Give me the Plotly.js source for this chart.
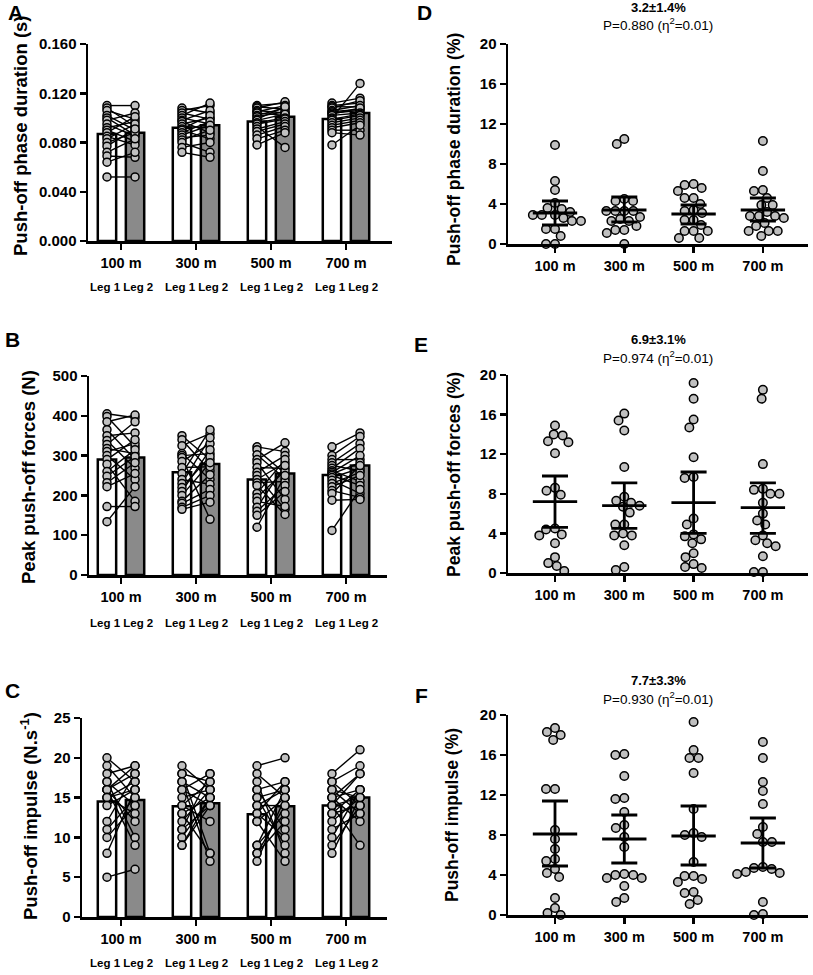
<!DOCTYPE html>
<html>
<head>
<meta charset="utf-8">
<script src="https://cdn.plot.ly/plotly-3.0.1.min.js"></script>
<style>body{margin:0;background:#fff}</style>
</head>
<body>
<div id="chart" style="width:813px;height:975px"></div>
<script>
var distances = ['100 m', '300 m', '500 m', '700 m'];

// A - push-off phase duration (s), one row per distance, subjects paired by index
var durationLeg1 = [
  [0.110, 0.108, 0.106, 0.102, 0.100, 0.098, 0.095, 0.092, 0.090, 0.088, 0.085, 0.083, 0.080, 0.077, 0.072, 0.069, 0.064, 0.052],
  [0.108, 0.106, 0.104, 0.102, 0.100, 0.098, 0.097, 0.095, 0.093, 0.091, 0.090, 0.088, 0.086, 0.084, 0.082, 0.080, 0.076, 0.072],
  [0.110, 0.109, 0.108, 0.106, 0.105, 0.104, 0.102, 0.101, 0.099, 0.098, 0.096, 0.095, 0.093, 0.091, 0.089, 0.086, 0.083, 0.078],
  [0.112, 0.110, 0.109, 0.108, 0.106, 0.105, 0.104, 0.103, 0.102, 0.100, 0.099, 0.098, 0.096, 0.094, 0.092, 0.090, 0.088, 0.078]
];
var durationLeg2 = [
  [0.110, 0.093, 0.099, 0.090, 0.086, 0.104, 0.085, 0.097, 0.081, 0.101, 0.078, 0.095, 0.088, 0.091, 0.083, 0.068, 0.072, 0.052],
  [0.104, 0.110, 0.099, 0.112, 0.095, 0.106, 0.088, 0.100, 0.092, 0.102, 0.083, 0.097, 0.094, 0.086, 0.090, 0.072, 0.080, 0.068],
  [0.112, 0.107, 0.113, 0.104, 0.110, 0.102, 0.108, 0.105, 0.109, 0.103, 0.100, 0.099, 0.076, 0.097, 0.095, 0.093, 0.090, 0.088],
  [0.116, 0.112, 0.109, 0.114, 0.110, 0.107, 0.106, 0.108, 0.104, 0.128, 0.103, 0.102, 0.100, 0.098, 0.096, 0.090, 0.086, 0.094]
];
var durationMean1 = [0.087, 0.092, 0.097, 0.099];
var durationMean2 = [0.088, 0.094, 0.101, 0.104];

// B - peak push-off forces (N)
var forceLeg1 = [
  [405, 398, 385, 365, 350, 338, 328, 318, 310, 300, 290, 278, 260, 248, 232, 222, 172, 134],
  [350, 340, 325, 305, 300, 295, 285, 270, 255, 240, 230, 220, 210, 200, 185, 180, 170, 165],
  [322, 315, 302, 290, 282, 270, 258, 250, 240, 232, 225, 205, 195, 185, 170, 160, 150, 120],
  [322, 300, 290, 282, 275, 268, 262, 258, 254, 250, 245, 238, 230, 222, 212, 205, 188, 112]
];
var forceLeg2 = [
  [395, 322, 402, 290, 357, 268, 385, 305, 330, 240, 340, 185, 315, 298, 282, 255, 172, 222],
  [290, 262, 355, 240, 305, 140, 330, 272, 365, 228, 345, 298, 315, 282, 252, 215, 200, 183],
  [310, 255, 242, 332, 190, 268, 300, 165, 282, 235, 152, 290, 262, 172, 275, 225, 210, 250],
  [357, 348, 290, 330, 262, 318, 235, 300, 282, 225, 268, 205, 258, 250, 195, 275, 190, 215]
];
var forceMean1 = [290, 258, 240, 251];
var forceMean2 = [295, 279, 255, 275];

// C - push-off impulse (N.s-1)
var impulseLeg1 = [
  [20, 19, 18, 17, 17, 16, 16, 16, 16, 15, 15, 15, 14, 12, 11, 10, 8, 5],
  [19, 18, 18, 17, 17, 16, 16, 15, 14, 14, 13, 13, 12, 11, 11, 10, 9, 9],
  [19, 18, 17, 16, 16, 15, 15, 14, 14, 13, 13, 12, 12, 9, 9, 8, 8, 7],
  [18, 17, 17, 16, 16, 15, 15, 15, 14, 14, 14, 13, 13, 12, 11, 10, 9, 8]
];
var impulseLeg2 = [
  [17, 15, 19, 14, 10, 18, 12, 19, 9, 16, 13, 17, 16, 18, 15, 14, 16, 6],
  [16, 8, 17, 15, 7, 18, 14, 16, 12, 17, 15, 8, 16, 14, 18, 15, 14, 15],
  [20, 15, 8, 17, 11, 16, 9, 14, 16, 10, 17, 7, 15, 13, 16, 14, 12, 15],
  [21, 14, 19, 13, 15, 18, 12, 16, 18, 15, 9, 16, 14, 15, 13, 16, 14, 15]
];
var impulseMean1 = [14.5, 13.9, 12.9, 14.0];
var impulseMean2 = [14.7, 14.3, 13.9, 15.0];

// D-F - between-leg differences (%), mean with 95% CI
var durationDiff = [
  [9.9, 6.3, 5.4, 4.1, 3.6, 3.5, 3.2, 2.9, 2.9, 2.9, 2.6, 2.3, 2.3, 1.5, 1.5, 0.8, 0.0, 0.0],
  [10.5, 10.0, 4.5, 4.3, 4.3, 3.3, 3.3, 3.3, 3.3, 2.7, 2.5, 2.3, 2.3, 1.8, 1.4, 1.4, 1.1, 0.0],
  [6.0, 5.9, 5.6, 5.3, 4.6, 4.6, 4.0, 3.4, 3.3, 3.1, 2.4, 2.4, 1.9, 1.3, 1.3, 1.3, 0.6, 0.6],
  [10.3, 7.3, 5.4, 5.3, 4.6, 3.9, 3.9, 3.2, 2.8, 2.8, 2.8, 2.6, 2.1, 1.8, 1.3, 1.3, 1.3, 0.8]
];
var durationDiffMean = [3.1, 3.4, 3.0, 3.4];
var durationDiffHigh = [4.3, 4.7, 3.9, 4.6];
var durationDiffLow = [1.9, 2.2, 2.0, 2.3];

var forceDiff = [
  [14.9, 14.0, 13.9, 13.3, 13.2, 12.1, 8.6, 8.3, 7.9, 4.5, 4.4, 3.9, 3.8, 3.0, 1.6, 1.0, 0.7, 0.2],
  [16.1, 15.4, 14.4, 10.7, 7.7, 7.3, 7.1, 6.8, 6.7, 6.1, 4.9, 4.9, 4.0, 3.8, 3.8, 2.8, 0.6, 0.3],
  [19.2, 17.6, 15.5, 14.7, 11.7, 9.7, 9.6, 5.5, 4.9, 3.9, 3.7, 3.4, 3.0, 2.0, 1.6, 0.9, 0.6, 0.5],
  [18.5, 17.6, 11.0, 8.5, 8.4, 8.0, 8.0, 7.1, 6.0, 5.3, 4.9, 3.8, 3.3, 3.0, 2.7, 1.7, 0.1, 0.1]
];
var forceDiffMean = [7.2, 6.8, 7.1, 6.6];
var forceDiffHigh = [9.8, 9.1, 10.2, 9.1];
var forceDiffLow = [4.6, 4.5, 4.0, 4.0];

var impulseDiff = [
  [18.7, 18.3, 18.0, 17.5, 12.6, 12.6, 8.5, 7.6, 6.6, 5.6, 5.4, 4.6, 4.2, 3.8, 1.7, 0.7, 0.2, 0.0],
  [16.1, 16.0, 13.9, 11.7, 11.6, 10.3, 9.0, 8.7, 7.8, 6.8, 4.1, 4.0, 4.0, 3.7, 3.7, 2.9, 1.7, 1.3],
  [19.3, 16.5, 15.7, 15.7, 14.2, 10.6, 8.2, 8.0, 7.8, 5.3, 3.9, 3.9, 3.6, 3.3, 2.3, 2.2, 1.5, 1.1],
  [17.3, 15.7, 13.3, 12.4, 11.1, 8.8, 8.1, 7.3, 7.3, 4.8, 4.7, 4.6, 4.3, 4.2, 4.1, 1.3, 0.1, 0.0]
];
var impulseDiffMean = [8.1, 7.6, 7.9, 7.2];
var impulseDiffHigh = [11.4, 10.0, 10.9, 9.7];
var impulseDiffLow = [4.9, 5.2, 5.0, 4.7];

var diffSummary = ['3.2±1.4%', '6.9±3.1%', '7.7±3.3%'];
var diffP = ['0.880', '0.974', '0.930'];
var diffEta = ['0.01', '0.01', '0.01'];

var FONT = 'Liberation Sans, Arial, Helvetica, sans-serif';
var W = 813, H = 975;
var LEG_OFF = 0.187;
var traces = [];
var annotations = [];
var layout = {
  width: W, height: H,
  margin: { l: 0, r: 0, t: 0, b: 0 },
  paper_bgcolor: '#fff', plot_bgcolor: '#fff',
  showlegend: false, barmode: 'overlay',
  font: { family: FONT, color: '#000' },
  annotations: annotations
};

// panel frame in page pixels: left, right, top, bottom, first category x, px per category
var frames = [
  [88, 392, 44, 241, 121, 75],
  [89, 387, 376, 575, 121, 75],
  [82, 387, 718, 917, 121, 75],
  [508, 808, 44, 244, 555, 69.3],
  [508, 808, 375, 573, 555, 69.3],
  [508, 808, 715, 915, 555, 69.3]
];

function note(text, px, py, size, bold, extra) {
  var a = {
    xref: 'paper', yref: 'paper', x: px / W, y: 1 - py / H,
    xanchor: 'center', yanchor: 'middle', showarrow: false, text: text,
    font: { family: FONT, size: size, color: '#000', weight: bold ? 'bold' : 'normal' }
  };
  for (var k in extra) a[k] = extra[k];
  annotations.push(a);
}

function makeAxes(n, yRange, dtick, fmt) {
  var f = frames[n - 1];
  var id = n === 1 ? '' : n;
  var common = {
    showline: true, linewidth: 2.5, linecolor: '#000',
    ticks: 'outside', ticklen: 6, tickwidth: 2.5, tickcolor: '#000',
    showgrid: false, zeroline: false, fixedrange: true
  };
  layout['xaxis' + id] = Object.assign({
    domain: [f[0] / W, f[1] / W],
    range: [(f[0] - f[4]) / f[5], (f[1] - f[4]) / f[5]],
    anchor: 'y' + id,
    tickvals: [0, 1, 2, 3], ticktext: distances,
    tickfont: { family: FONT, size: 14.5, color: '#000', weight: 'bold' },
    ticklabelstandoff: 1
  }, common);
  layout['yaxis' + id] = Object.assign({
    domain: [1 - f[3] / H, 1 - f[2] / H],
    range: yRange, anchor: 'x' + id,
    tick0: 0, dtick: dtick, tickformat: fmt,
    tickfont: { family: FONT, size: 15, color: '#000', weight: 'bold' }
  }, common);
}

function pairedPanel(n, leg1, leg2, mean1, mean2) {
  var id = n === 1 ? '' : n;
  var xa = 'x' + id, ya = 'y' + id;
  var cats = [0, 1, 2, 3];
  traces.push({
    type: 'bar', x: cats, y: mean1, xaxis: xa, yaxis: ya,
    width: 0.245, offset: -LEG_OFF - 0.1225,
    marker: { color: '#ffffff', line: { color: '#000', width: 2.5 } }, hoverinfo: 'skip'
  });
  traces.push({
    type: 'bar', x: cats, y: mean2, xaxis: xa, yaxis: ya,
    width: 0.245, offset: LEG_OFF - 0.1225,
    marker: { color: '#8a8a8a', line: { color: '#000', width: 2.5 } }, hoverinfo: 'skip'
  });
  var xs = [], ys = [];
  leg1.forEach(function (vals, i) {
    vals.forEach(function (v, k) {
      xs.push(i - LEG_OFF, i + LEG_OFF, null);
      ys.push(v, leg2[i][k], null);
    });
  });
  traces.push({
    type: 'scatter', mode: 'lines+markers', x: xs, y: ys, xaxis: xa, yaxis: ya,
    connectgaps: false, cliponaxis: false, hoverinfo: 'skip',
    line: { color: '#000', width: 1.4 },
    marker: { size: 8, color: '#c0c0c0', line: { color: '#000', width: 1.5 } }
  });
}

// simple beeswarm: offsets in px so that markers of spacing d do not overlap
function swarm(values, pxPerUnit, d) {
  var placed = [];
  var out = new Array(values.length);
  var order = values.map(function (v, i) { return i; })
    .sort(function (a, b) { return values[b] - values[a]; });
  order.forEach(function (i) {
    var y = values[i] * pxPerUnit;
    var cands = [0];
    placed.forEach(function (p) {
      var dy = Math.abs(p.y - y);
      if (dy < d) {
        var dx = Math.sqrt(d * d - dy * dy);
        cands.push(p.x + dx, p.x - dx);
      }
    });
    var ok = cands.filter(function (c) {
      return placed.every(function (p) {
        return (p.x - c) * (p.x - c) + (p.y - y) * (p.y - y) >= d * d - 0.01;
      });
    });
    ok.sort(function (a, b) { return Math.abs(a) - Math.abs(b) || a - b; });
    placed.push({ x: ok[0], y: y });
    out[i] = ok[0];
  });
  return out;
}

function diffPanel(n, diffs, mean, high, low) {
  var f = frames[n - 1];
  var id = n === 1 ? '' : n;
  var xa = 'x' + id, ya = 'y' + id;
  var pxPerUnit = (f[3] - f[2]) / 20;
  var xs = [], ys = [];
  diffs.forEach(function (vals, i) {
    var off = swarm(vals, pxPerUnit, 9);
    vals.forEach(function (v, k) {
      xs.push(i + off[k] / f[5]);
      ys.push(v);
    });
  });
  traces.push({
    type: 'scatter', mode: 'markers', x: xs, y: ys, xaxis: xa, yaxis: ya,
    cliponaxis: false, hoverinfo: 'skip',
    marker: { size: 8.5, color: '#c0c0c0', line: { color: '#000', width: 1.5 } }
  });
  var mx = [], my = [];
  mean.forEach(function (m, i) {
    mx.push(i - 0.32, i + 0.32, null);
    my.push(m, m, null);
  });
  traces.push({
    type: 'scatter', mode: 'lines', x: mx, y: my, xaxis: xa, yaxis: ya,
    connectgaps: false, hoverinfo: 'skip', line: { color: '#000', width: 2.8 }
  });
  traces.push({
    type: 'scatter', mode: 'markers', x: [0, 1, 2, 3], y: mean, xaxis: xa, yaxis: ya,
    hoverinfo: 'skip', marker: { size: 2, opacity: 0 },
    error_y: {
      type: 'data', symmetric: false,
      array: high.map(function (h, i) { return h - mean[i]; }),
      arrayminus: low.map(function (l, i) { return mean[i] - l; }),
      width: 13, thickness: 2.8, color: '#000'
    }
  });
}

makeAxes(1, [0, 0.16], 0.04, '.3f');
makeAxes(2, [0, 500], 100, 'd');
makeAxes(3, [0, 25], 5, 'd');
makeAxes(4, [0, 20], 4, 'd');
makeAxes(5, [0, 20], 4, 'd');
makeAxes(6, [0, 20], 4, 'd');

pairedPanel(1, durationLeg1, durationLeg2, durationMean1, durationMean2);
pairedPanel(2, forceLeg1, forceLeg2, forceMean1, forceMean2);
pairedPanel(3, impulseLeg1, impulseLeg2, impulseMean1, impulseMean2);
diffPanel(4, durationDiff, durationDiffMean, durationDiffHigh, durationDiffLow);
diffPanel(5, forceDiff, forceDiffMean, forceDiffHigh, forceDiffLow);
diffPanel(6, impulseDiff, impulseDiffMean, impulseDiffHigh, impulseDiffLow);

// "Leg 1 Leg 2" under each distance
var legRows = [287, 623, 963];
legRows.forEach(function (py, p) {
  var id = p === 0 ? '' : p + 1;
  distances.forEach(function (d, i) {
    annotations.push({
      xref: 'x' + id, yref: 'paper', x: i, y: 1 - py / H,
      xanchor: 'center', yanchor: 'middle', showarrow: false, text: 'Leg 1 Leg 2',
      font: { family: FONT, size: 11.5, color: '#000', weight: 'bold' }
    });
  });
});

// panel letters
note('A', 15, 12, 21, true);
note('B', 13, 339, 21, true);
note('C', 13, 690, 21, true);
note('D', 424, 12, 21, true);
note('E', 421, 344, 21, true);
note('F', 421, 695, 21, true);

// y-axis titles
note('Push-off phase duration (s)', 20, 136, 18.5, true, { textangle: -90 });
note('Peak push-off forces (N)', 28, 477, 18.5, true, { textangle: -90 });
note('Push-off impulse (N.s<sup>-1</sup>)', 29, 816, 18.5, true, { textangle: -90 });
note('Push-off phase duration (%)', 454, 150, 17.5, true, { textangle: -90 });
note('Peak push-off forces (%)', 454, 475, 17.5, true, { textangle: -90 });
note('Push-off impulse (%)', 452, 815, 17.5, true, { textangle: -90 });

// summary of differences above each right panel
var statRows = [[8, 24], [339, 357], [680, 698]];
statRows.forEach(function (r, i) {
  note(diffSummary[i], 658, r[0], 13, true);
  note('P=' + diffP[i] + ' (η<sup>2</sup>=' + diffEta[i] + ')', 658, r[1], 13.5, false);
});

Plotly.newPlot('chart', traces, layout, { staticPlot: true });
</script>
</body>
</html>
